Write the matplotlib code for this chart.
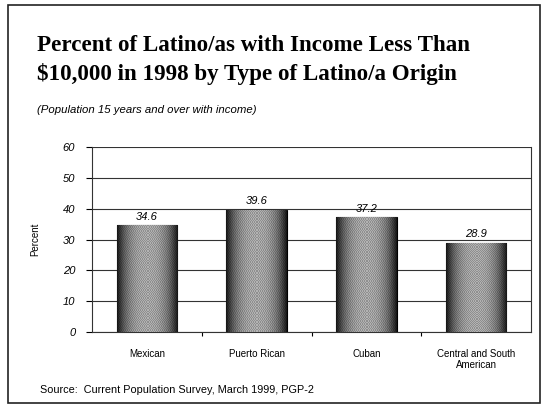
import numpy as np
import matplotlib
matplotlib.use("Agg")
import matplotlib.pyplot as plt
from matplotlib.patches import Rectangle

# Income under $10,000, 1998, by origin group
categories = ["Mexican", "Puerto Rican", "Cuban", "Central and South\nAmerican"]
percents = [34.6, 39.6, 37.2, 28.9]
yticks = [0, 10, 20, 30, 40, 50, 60]

W, H = 542, 408
fig = plt.figure(figsize=(W / 100, H / 100), dpi=100)
fig.patch.set_facecolor("white")

# page border
fig.patches.append(Rectangle((8 / W, 1 - 403 / H), 532 / W, 398 / H,
                             transform=fig.transFigure, fill=False,
                             edgecolor="#222222", linewidth=1.2))

fig.text(37 / W, 1 - 51 / H, "Percent of Latino/as with Income Less Than",
         family="Liberation Serif", weight="bold", fontsize=16.6, va="baseline")
fig.text(37 / W, 1 - 80 / H, "$10,000 in 1998 by Type of Latino/a Origin",
         family="Liberation Serif", weight="bold", fontsize=16.6, va="baseline")
fig.text(37 / W, 1 - 113 / H, "(Population 15 years and over with income)",
         family="Liberation Sans", style="italic", fontsize=8.2, va="baseline")
fig.text(40 / W, 1 - 393 / H, "Source:  Current Population Survey, March 1999, PGP-2",
         family="Liberation Sans", fontsize=7.8, va="baseline")

ax = fig.add_axes([92 / W, 1 - 332 / H, 439 / W, 185 / H])
x = np.arange(len(categories))
bars = ax.bar(x, percents, width=0.55, color="#9a9a9a", edgecolor="black",
              linewidth=0.8, zorder=3)

# shaded fill: dark at the sides, light in the middle, with a fine stipple
grad = np.linspace(-1, 1, 60)
shade = 0.1 + 0.6 * (1 - np.abs(grad) ** 2.5)
stipple = np.indices((80, 60)).sum(axis=0) % 2
for b in bars:
    img = shade[None, :] * (0.8 + 0.2 * stipple)
    im = ax.imshow(img, cmap="gray", vmin=0, vmax=1, aspect="auto",
                   extent=(b.get_x(), b.get_x() + b.get_width(), 0, b.get_height()),
                   zorder=3.5, interpolation="nearest")
    im.set_clip_path(b)

for xi, v in zip(x, percents):
    ax.text(xi, v + 1.2, f"{v:.1f}", ha="center", va="bottom",
            family="Liberation Sans", style="italic", fontsize=8, zorder=5)

ax.set_xlim(-0.5, len(categories) - 0.5)
ax.set_ylim(0, 60)
ax.set_yticks(yticks)
ax.set_yticklabels([str(t) for t in yticks], family="Liberation Sans",
                   style="italic", fontsize=8)
ax.set_xticks(x)
ax.set_xticklabels(categories, family="Liberation Sans", fontsize=7)
ax.tick_params(axis="x", length=0, pad=12)
ax.tick_params(axis="y", length=4, width=0.8, pad=8)
ax.set_xticks(np.arange(0.5, len(categories) - 0.5), minor=True)
ax.tick_params(axis="x", which="minor", length=3, width=0.8, direction="out")

ax.yaxis.grid(True, color="#333333", linewidth=0.8, zorder=0)
ax.set_axisbelow(True)
for side in ["left", "bottom", "right"]:
    ax.spines[side].set_color("#333333")
    ax.spines[side].set_linewidth(0.8)
ax.spines["top"].set_visible(False)

ax.set_ylabel("Percent", family="Liberation Sans", fontsize=7, labelpad=16)

fig.savefig("out.png", dpi=100, facecolor="white")
